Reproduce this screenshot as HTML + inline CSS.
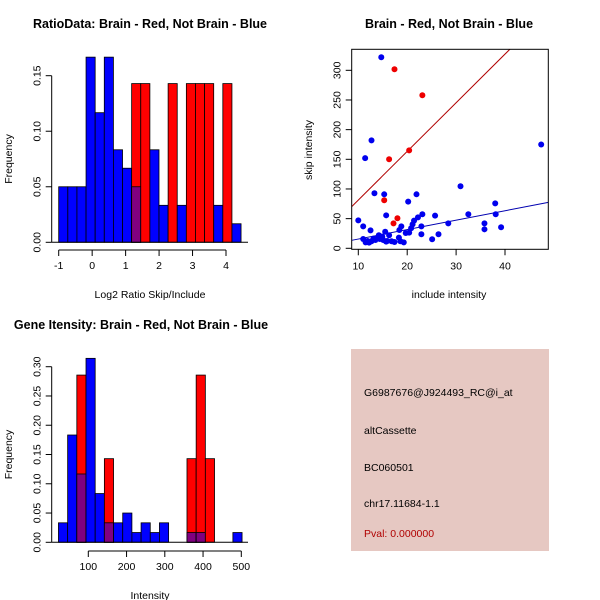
<!DOCTYPE html>
<html><head><meta charset="utf-8"><style>
body{margin:0;background:#fff}
svg{display:block;font-family:"Liberation Sans",Arial,sans-serif}
</style></head><body>
<svg id="c" width="600" height="600" viewBox="0 0 600 600">
<rect width="600" height="600" fill="#fff"/>
<text x="150" y="28" font-size="12.5" font-weight="bold" text-anchor="middle">RatioData: Brain - Red, Not Brain - Blue</text>
<text x="449" y="28" font-size="12.5" font-weight="bold" text-anchor="middle">Brain - Red, Not Brain - Blue</text>
<text x="141" y="329" font-size="12.5" font-weight="bold" text-anchor="middle">Gene Itensity: Brain - Red, Not Brain - Blue</text>
<g id="h1"></g>
<g id="h2"></g>
<g id="sc"></g>
<g>
<rect x="351" y="349" width="198" height="202" fill="#e6c8c2"/>
<g font-size="10.5" fill="#000">
<text x="364" y="396">G6987676@J924493_RC@i_at</text>
<text x="364" y="434">altCassette</text>
<text x="364" y="471">BC060501</text>
<text x="364" y="507">chr17.11684-1.1</text>
<text x="364" y="537" fill="#b00000">Pval: 0.000000</text>
</g></g>
</svg>
<script>
// Ratio histogram data
const h1Start = -1, h1Width = 0.2725;
const h1Blue = [0.05,0.05,0.05,0.1667,0.1167,0.1667,0.0833,0.0667,0.05,0,0.0833,0.0333,0,0.0333,0,0,0,0.0333,0,0.0167];
const h1Red  = [0,0,0,0,0,0,0,0,0.1429,0.1429,0,0,0.1429,0,0.1429,0.1429,0.1429,0,0.1429,0];
const h1XTicks = [-1,0,1,2,3,4];
const h1YTicks = ["0.00","0.05","0.10","0.15"];
// Intensity histogram data
const h2Start = 22, h2Width = 24;
const h2Blue = [0.0333,0.1833,0.1167,0.3143,0.0833,0.0333,0.0333,0.05,0.0167,0.0333,0.0167,0.0333,0,0,0.0167,0.0167,0,0,0,0.0167];
const h2Red  = [0,0,0.2857,0,0,0.1429,0,0,0,0,0,0,0,0,0.1429,0.2857,0.1429,0,0,0];
const h2XTicks = [100,200,300,400,500];
const h2YTicks = ["0.00","0.05","0.10","0.15","0.20","0.25","0.30"];
// Scatter data
const redX = [17.4,23.1,20.4,16.3,15.3,18.0,17.2];
const redY = [301.7,257.9,165,150,80.9,50.6,42];
const blueX = [14.7,12.7,11.4,47.4,13.3,15.3,21.9,30.9,20.2,38,10,11,12.5,15.7,22.2,23.1,25.7,32.5,38.1,28.4,35.8,35.8,39.2,22.9,22.9,25.1,26.4,18.8,21.4,21.1,20.8,20.4,19.7,18.4,16.3,15.5,14.2,13.9,13.5,12.7,11.9,11,11.5,14.4,14.9,15.1,15.9,17.4,18.6,19.3,18.3,13.1,15.7,14.2,12.2,16.8];
const blueY = [322,182,152,175,92.7,91,91,104.5,78.7,75.8,47,37,30.3,55.6,52.2,57.3,55,57.3,57.3,42,42,32,35.4,37,23.6,15.2,23.6,37,46.6,40.4,33.7,26.4,25.8,30.9,21.9,28,21.9,16.9,14,11.8,12.4,15.7,10,15.7,19.7,14,12.4,10.7,11.8,10,18,16.3,11.2,18.5,9.6,11.8];
const scXTicks = [10,20,30,40];
const scYTicks = [0,50,100,150,200,250,300];
const redFit = [-0.7, 8.2];
const blueFit = [-0.3, 1.59];

const NS="http://www.w3.org/2000/svg";
function mk(parent,tag,attrs){const e=document.createElementNS(NS,tag);for(const k in attrs)e.setAttribute(k,attrs[k]);parent.appendChild(e);return e;}

function hist(g,start,w,blue,red,xt,yt,sx,sy,yAxisX,xAxisY,ylabelX,name){
  const n=blue.length;
  for(let i=0;i<n;i++){
    const x0=sx(start+i*w),x1=sx(start+(i+1)*w);
    const b=blue[i],r=red[i];
    if(b>0){const e=mk(g,'rect',{x:x0,y:sy(b),width:x1-x0,height:sy(0)-sy(b),fill:'#0000ff',stroke:'#000','stroke-width':0.8});
      
      }
    if(r>0){const e=mk(g,'rect',{x:x0,y:sy(r),width:x1-x0,height:sy(0)-sy(r),fill:'#ff0000',stroke:'#000','stroke-width':0.8});
      
      }
    if(b>0&&r>0){const m=Math.min(b,r);const e=mk(g,'rect',{x:x0,y:sy(m),width:x1-x0,height:sy(0)-sy(m),fill:'#800080',stroke:'#000','stroke-width':0.8});
      
      }
  }
  mk(g,'line',{x1:yAxisX,x2:248,y1:sy(0),y2:sy(0),stroke:'#000'});
  // x axis
  mk(g,'line',{x1:sx(xt[0]),x2:sx(xt[xt.length-1]),y1:xAxisY,y2:xAxisY,stroke:'#000'});
  xt.forEach(v=>{mk(g,'line',{x1:sx(v),x2:sx(v),y1:xAxisY,y2:xAxisY+6,stroke:'#000'});
    const t=mk(g,'text',{x:sx(v),y:xAxisY+19,'font-size':10.5,'text-anchor':'middle'});t.textContent=v;
    
    });
  // y axis
  const yv=yt.map(Number);
  mk(g,'line',{x1:yAxisX,x2:yAxisX,y1:sy(yv[0]),y2:sy(yv[yv.length-1]),stroke:'#000'});
  yt.forEach(s=>{const v=Number(s);mk(g,'line',{x1:yAxisX-6,x2:yAxisX,y1:sy(v),y2:sy(v),stroke:'#000'});
    const t=mk(g,'text',{x:0,y:0,'font-size':10.5,'text-anchor':'middle',transform:`translate(${yAxisX-11},${sy(v)}) rotate(-90)`});t.textContent=s;
    
    });
  const yl=mk(g,'text',{x:0,y:0,'font-size':10.5,'text-anchor':'middle',transform:`translate(${ylabelX},${(sy(yv[0])+sy(yv[yv.length-1]))/2}) rotate(-90)`});yl.textContent='Frequency';
  
  
  const xl=mk(g,'text',{x:150,y:xAxisY+48,'font-size':10.5,'text-anchor':'middle'});xl.textContent=name;
  
  
}
hist(document.getElementById('h1'),h1Start,h1Width,h1Blue,h1Red,h1XTicks,h1YTicks,
  v=>58.7+(v+1)*33.46, v=>242.3-v*1110.7, 51.7, 250, 12, 'Log2 Ratio Skip/Include');
hist(document.getElementById('h2'),h2Start,h2Width,h2Blue,h2Red,h2XTicks,h2YTicks,
  v=>88.3+(v-100)*0.3825, v=>542.3-v*585.3, 51.7, 551, 12, 'Intensity');

// scatter
const g=document.getElementById('sc');
const sx=v=>358.3+(v-10)*4.89, sy=v=>248.3-v*0.5933;
const L=351.7,R=548.3,T=49.3,B=249.3;
const cp=mk(g,'clipPath',{id:'scclip'});mk(cp,'rect',{x:L,y:T,width:R-L,height:B-T});
const xa=(L-358.3)/4.89+10, xb=(R-358.3)/4.89+10;
[[redFit,'#b00000','red-fit-line'],[blueFit,'#0000b0','blue-fit-line']].forEach(([f,c,n])=>{
  const e=mk(g,'line',{x1:sx(xa),y1:sy(f[0]+f[1]*xa),x2:sx(xb),y2:sy(f[0]+f[1]*xb),stroke:c,'stroke-width':1,'clip-path':'url(#scclip)'});
  
  
});
blueX.forEach((x,i)=>{const e=mk(g,'circle',{cx:sx(x),cy:sy(blueY[i]),r:3,fill:'#0000ee'});
  
  });
redX.forEach((x,i)=>{const e=mk(g,'circle',{cx:sx(x),cy:sy(redY[i]),r:3,fill:'#ee0000'});
  
  });
mk(g,'rect',{x:L,y:T,width:R-L,height:B-T,fill:'none',stroke:'#000'});
scXTicks.forEach(v=>{mk(g,'line',{x1:sx(v),x2:sx(v),y1:B,y2:B+6,stroke:'#000'});
  const t=mk(g,'text',{x:sx(v),y:B+20,'font-size':10.5,'text-anchor':'middle'});t.textContent=v;
  
  });
scYTicks.forEach(v=>{mk(g,'line',{x1:L-6,x2:L,y1:sy(v),y2:sy(v),stroke:'#000'});
  const t=mk(g,'text',{x:0,y:0,'font-size':10.5,'text-anchor':'middle',transform:`translate(${L-11},${sy(v)}) rotate(-90)`});t.textContent=v;
  
  });
const xl=mk(g,'text',{x:449,y:298,'font-size':10.5,'text-anchor':'middle'});xl.textContent='include intensity';


const yl=mk(g,'text',{x:0,y:0,'font-size':10.5,'text-anchor':'middle',transform:'translate(312,150) rotate(-90)'});yl.textContent='skip intensity';


</script>
</body></html>
